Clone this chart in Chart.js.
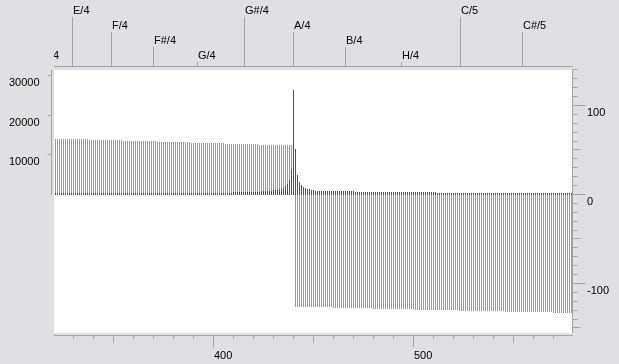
<!DOCTYPE html>
<html>
<head>
<meta charset="utf-8">
<script src="https://cdn.jsdelivr.net/npm/chart.js@4.4.1/dist/chart.umd.min.js"></script>
<style>
  html, body { margin: 0; padding: 0; background: #e0dfe3; }
  canvas { display: block; }
</style>
</head>
<body>
<canvas id="spectrum" width="619" height="364"></canvas>
<script>
// one bar per Hz, starting at 321 Hz
const firstFreq = 321;

// magnitude (left axis)
const magnitude = [
  504, 504, 504, 504, 504, 504, 504, 504, 504, 504,
  504, 504, 504, 504, 504, 504, 504, 504, 504, 504,
  504, 504, 504, 504, 504, 504, 504, 504, 504, 504,
  504, 504, 504, 504, 504, 504, 504, 504, 504, 504,
  504, 504, 504, 504, 504, 504, 504, 504, 504, 504,
  504, 504, 504, 504, 504, 504, 504, 504, 504, 504,
  504, 504, 504, 504, 504, 504, 504, 504, 504, 504,
  504, 504, 504, 504, 504, 504, 504, 504, 504, 504,
  504, 504, 504, 504, 504, 504, 504, 504, 504, 756,
  756, 756, 756, 756, 756, 756, 756, 756, 756, 756,
  756, 756, 756, 1008, 1008, 1008, 1008, 1008, 1008, 1260,
  1260, 1260, 1511, 1511, 1763, 2267, 2771, 3779, 6298, 26450,
  11587, 5038, 3275, 2519, 2015, 1763, 1511, 1511, 1260, 1260,
  1008, 1008, 1008, 1008, 1008, 1008, 1008, 1008, 1008, 1008,
  1008, 1008, 1008, 1008, 1008, 1008, 1008, 1008, 1008, 1008,
  756, 756, 756, 756, 756, 756, 756, 756, 756, 756,
  756, 756, 756, 756, 756, 756, 756, 756, 756, 756,
  756, 756, 756, 756, 756, 756, 756, 756, 756, 756,
  756, 756, 756, 756, 756, 756, 756, 756, 756, 756,
  756, 504, 504, 504, 504, 504, 504, 504, 504, 504,
  504, 504, 504, 504, 504, 504, 504, 504, 504, 504,
  504, 504, 504, 504, 504, 504, 504, 504, 504, 504,
  504, 504, 504, 504, 504, 504, 504, 504, 504, 504,
  504, 504, 504, 504, 504, 504, 504, 504, 504, 504,
  504, 504, 504, 504, 504, 504, 504, 504, 504, 504,
  504, 504, 504, 504, 504, 504, 504, 504, 504
];

// phase (right axis)
const phase = [
  62.92, 62.92, 62.92, 62.92, 62.92, 62.92, 62.92, 62.92, 62.92, 62.92,
  62.92, 62.92, 62.92, 62.92, 62.92, 62.92, 62.92, 61.8, 61.8, 61.8,
  61.8, 61.8, 61.8, 61.8, 61.8, 61.8, 61.8, 61.8, 61.8, 61.8,
  61.8, 61.8, 61.8, 61.8, 60.67, 60.67, 60.67, 60.67, 60.67, 60.67,
  60.67, 60.67, 60.67, 60.67, 60.67, 60.67, 60.67, 60.67, 60.67, 60.67,
  60.67, 59.55, 59.55, 59.55, 59.55, 59.55, 59.55, 59.55, 59.55, 59.55,
  59.55, 59.55, 59.55, 59.55, 59.55, 59.55, 59.55, 59.55, 58.43, 58.43,
  58.43, 58.43, 58.43, 58.43, 58.43, 58.43, 58.43, 58.43, 58.43, 58.43,
  58.43, 58.43, 58.43, 58.43, 58.43, 57.3, 57.3, 57.3, 57.3, 57.3,
  57.3, 57.3, 57.3, 57.3, 57.3, 57.3, 57.3, 57.3, 57.3, 57.3,
  57.3, 57.3, 56.18, 56.18, 56.18, 56.18, 56.18, 56.18, 56.18, 56.18,
  56.18, 56.18, 56.18, 56.18, 56.18, 56.18, 56.18, 56.18, 56.18, 56.18,
  -125.84, -125.84, -125.84, -125.84, -125.84, -125.84, -125.84, -125.84, -125.84, -125.84,
  -125.84, -125.84, -125.84, -125.84, -125.84, -125.84, -125.84, -125.84, -125.84, -126.97,
  -126.97, -126.97, -126.97, -126.97, -126.97, -126.97, -126.97, -126.97, -126.97, -126.97,
  -126.97, -126.97, -126.97, -126.97, -126.97, -126.97, -126.97, -126.97, -126.97, -128.09,
  -128.09, -128.09, -128.09, -128.09, -128.09, -128.09, -128.09, -128.09, -128.09, -128.09,
  -128.09, -128.09, -128.09, -128.09, -128.09, -128.09, -128.09, -128.09, -128.09, -128.09,
  -129.21, -129.21, -129.21, -129.21, -129.21, -129.21, -129.21, -129.21, -129.21, -129.21,
  -129.21, -129.21, -129.21, -129.21, -129.21, -129.21, -129.21, -129.21, -129.21, -129.21,
  -129.21, -129.21, -130.34, -130.34, -130.34, -130.34, -130.34, -130.34, -130.34, -130.34,
  -130.34, -130.34, -130.34, -130.34, -130.34, -130.34, -130.34, -130.34, -130.34, -130.34,
  -130.34, -130.34, -130.34, -130.34, -130.34, -131.46, -131.46, -131.46, -131.46, -131.46,
  -131.46, -131.46, -131.46, -131.46, -131.46, -131.46, -131.46, -131.46, -131.46, -131.46,
  -131.46, -131.46, -131.46, -131.46, -131.46, -131.46, -131.46, -131.46, -131.46, -132.58,
  -132.58, -132.58, -132.58, -132.58, -132.58, -132.58, -132.58, -132.58, -132.58
];

// note scale on top
const noteNames = ['D#/4', 'E/4', 'F/4', 'F#/4', 'G/4', 'G#/4', 'A/4', 'B/4', 'H/4', 'C/5', 'C#/5'];
const noteFreqs = [311.13, 329.63, 349.23, 369.99, 392.0, 415.3, 440.0, 466.16, 493.88, 523.25, 554.37];

const freqTicks = [400, 500];
const magTicks = [10000, 20000, 30000];
const phaseTicks = [100, 0, -100];

const freqs = magnitude.map((_, i) => firstFreq + i);

const axisColor = '#a4a4a8';
const font = '11px "Liberation Sans", Arial, sans-serif';

const axesPlugin = {
  id: 'axes',
  beforeDatasetsDraw(chart) {
    const { ctx, chartArea: a } = chart;
    ctx.save();
    ctx.fillStyle = '#ffffff';
    ctx.fillRect(a.left, a.top, a.right - a.left, a.bottom - a.top);
    ctx.restore();
  },
  afterDraw(chart) {
    const { ctx, chartArea: a, scales } = chart;
    const xs = scales.x, ym = scales.yMag, yp = scales.yPhase;
    const row = v => Math.floor(v - 0.5) + 0.5;
    const line = (x1, y1, x2, y2) => {
      ctx.beginPath(); ctx.moveTo(x1, y1); ctx.lineTo(x2, y2); ctx.stroke();
    };
    ctx.save();
    ctx.strokeStyle = axisColor;
    ctx.lineWidth = 1;
    ctx.fillStyle = '#000';
    ctx.font = font;
    ctx.textBaseline = 'alphabetic';

    // bottom: frequency
    const by = a.bottom + 2.5;
    line(a.left, by, a.right + 1, by);
    for (let f = Math.ceil(xs.min / 10) * 10; f <= xs.max; f += 10) {
      const px = Math.floor(xs.getPixelForValue(f)) + 0.5;
      const len = f % 100 === 0 ? 12 : (f % 50 === 0 ? 7 : 3.5);
      line(px, by, px, by + len);
    }
    ctx.textAlign = 'left';
    freqTicks.forEach(f => {
      ctx.fillText(String(f), Math.floor(xs.getPixelForValue(f)) + 1, 359);
    });

    // top: notes
    const ty = a.top - 3.5;
    ctx.save();
    ctx.beginPath();
    ctx.rect(a.left, 0, a.right - a.left + 1, a.top);
    ctx.clip();
    line(a.left, ty, a.right + 1, ty);
    noteNames.forEach((name, i) => {
      const level = (i + 3) % 4;
      const px = Math.floor(xs.getPixelForValue(noteFreqs[i])) + 0.5;
      line(px, 17 + 15 * level, px, ty);
      ctx.fillText(name, px + 0.5, 14 + 15 * level);
    });
    ctx.restore();

    // left: magnitude (positive side only)
    const lx = a.left - 2.5;
    line(lx, a.top, lx, ym.getPixelForValue(0));
    ctx.textAlign = 'right';
    magTicks.forEach(v => {
      const py = row(ym.getPixelForValue(v));
      line(lx - 4, py, lx, py);
      ctx.fillText(String(v), 39.5, py + 10);
    });

    // right: phase
    const rx = a.right + 0.5;
    line(rx, a.top, rx, a.bottom);
    for (let v = Math.ceil(yp.min / 10) * 10; v <= yp.max; v += 10) {
      const py = row(yp.getPixelForValue(v));
      const len = v % 100 === 0 ? 13 : (v % 50 === 0 ? 8 : 5);
      line(rx, py, rx + len, py);
    }
    ctx.textAlign = 'left';
    phaseTicks.forEach(v => {
      const py = row(yp.getPixelForValue(v));
      ctx.fillText(String(v), 587, py + 10);
    });

    ctx.restore();
  }
};

new Chart(document.getElementById('spectrum'), {
  type: 'bar',
  data: {
    datasets: [
      {
        label: 'Magnitude',
        data: freqs.map((f, i) => ({ x: f, y: magnitude[i] })),
        yAxisID: 'yMag',
        backgroundColor: '#187a18',
        barThickness: 1,
        inflateAmount: 0,
        borderWidth: 0,
        grouped: false,
        order: 0
      },
      {
        label: 'Phase',
        data: freqs.map((f, i) => ({ x: f, y: phase[i] })),
        yAxisID: 'yPhase',
        backgroundColor: '#bd80c2',
        barThickness: 1,
        inflateAmount: 0,
        borderWidth: 0,
        grouped: false,
        order: 1
      }
    ]
  },
  options: {
    responsive: false,
    animation: false,
    devicePixelRatio: 1,
    layout: { padding: { left: 54, right: 47, top: 70, bottom: 31 } },
    plugins: { legend: { display: false }, tooltip: { enabled: false } },
    scales: {
      x: { type: 'linear', display: false, offset: false, min: 320.25, max: 579.25 },
      yMag: { type: 'linear', display: false, min: -34761, max: 31486 },
      yPhase: { type: 'linear', display: false, min: -155.06, max: 140.45 }
    }
  },
  plugins: [axesPlugin]
});
</script>
</body>
</html>
